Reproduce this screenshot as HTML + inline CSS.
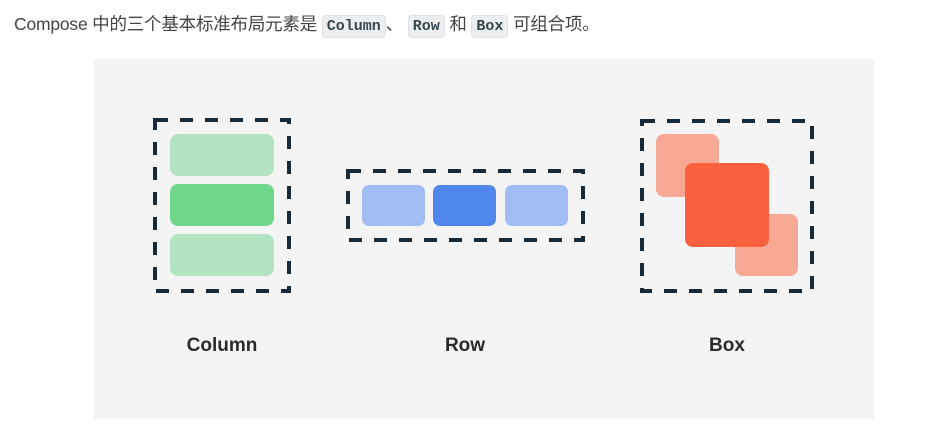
<!DOCTYPE html>
<html><head><meta charset="utf-8"><style>
html,body{margin:0;padding:0;background:#fff;width:937px;height:433px;overflow:hidden;}
.p{position:absolute;left:14px;top:11px;font-family:"Liberation Sans","Noto Sans CJK SC",sans-serif;font-size:17.5px;color:#444;white-space:nowrap;letter-spacing:-0.2px;}
code{font-family:"Liberation Mono",monospace;font-size:15px;background:#eceef0;border:1px solid #dfe2e5;border-radius:4px;padding:2px 4px;color:#37474f;font-weight:bold;letter-spacing:0;}
</style></head><body>
<div class="p">Compose 中的三个基本标准布局元素是 <code>Column</code>、 <code>Row</code> 和 <code>Box</code> 可组合项。</div>
<svg style="position:absolute;left:0;top:0" width="937" height="433">
<rect x="94" y="59" width="780" height="360" fill="#f4f4f4"/>
<g fill="none" stroke="#172a3a" stroke-width="4" stroke-dasharray="13 12">
<rect x="155" y="120" width="134" height="171"/>
<rect x="348" y="171" width="235" height="69"/>
<rect x="642" y="121" width="170" height="170"/>
</g>
<rect x="170" y="134" width="104" height="42" rx="8" fill="#b2e4c1"/>
<rect x="170" y="184" width="104" height="42" rx="8" fill="#6fd68a"/>
<rect x="170" y="234" width="104" height="42" rx="8" fill="#b2e4c1"/>
<rect x="362" y="185" width="63" height="41" rx="7" fill="#a2bdf4"/>
<rect x="433" y="185" width="63" height="41" rx="7" fill="#5087ed"/>
<rect x="505" y="185" width="63" height="41" rx="7" fill="#a2bdf4"/>
<rect x="656" y="134" width="63" height="63" rx="8" fill="#f7a995"/>
<rect x="735" y="214" width="63" height="62" rx="8" fill="#f7a995"/>
<rect x="685" y="163" width="84" height="84" rx="8" fill="#fc613f"/>
<g font-family="Liberation Sans, sans-serif" font-weight="bold" font-size="19" fill="#2a2a2a" text-anchor="middle">
<text x="222" y="351">Column</text>
<text x="465" y="351">Row</text>
<text x="727" y="351">Box</text>
</g>
</svg>
</body></html>
